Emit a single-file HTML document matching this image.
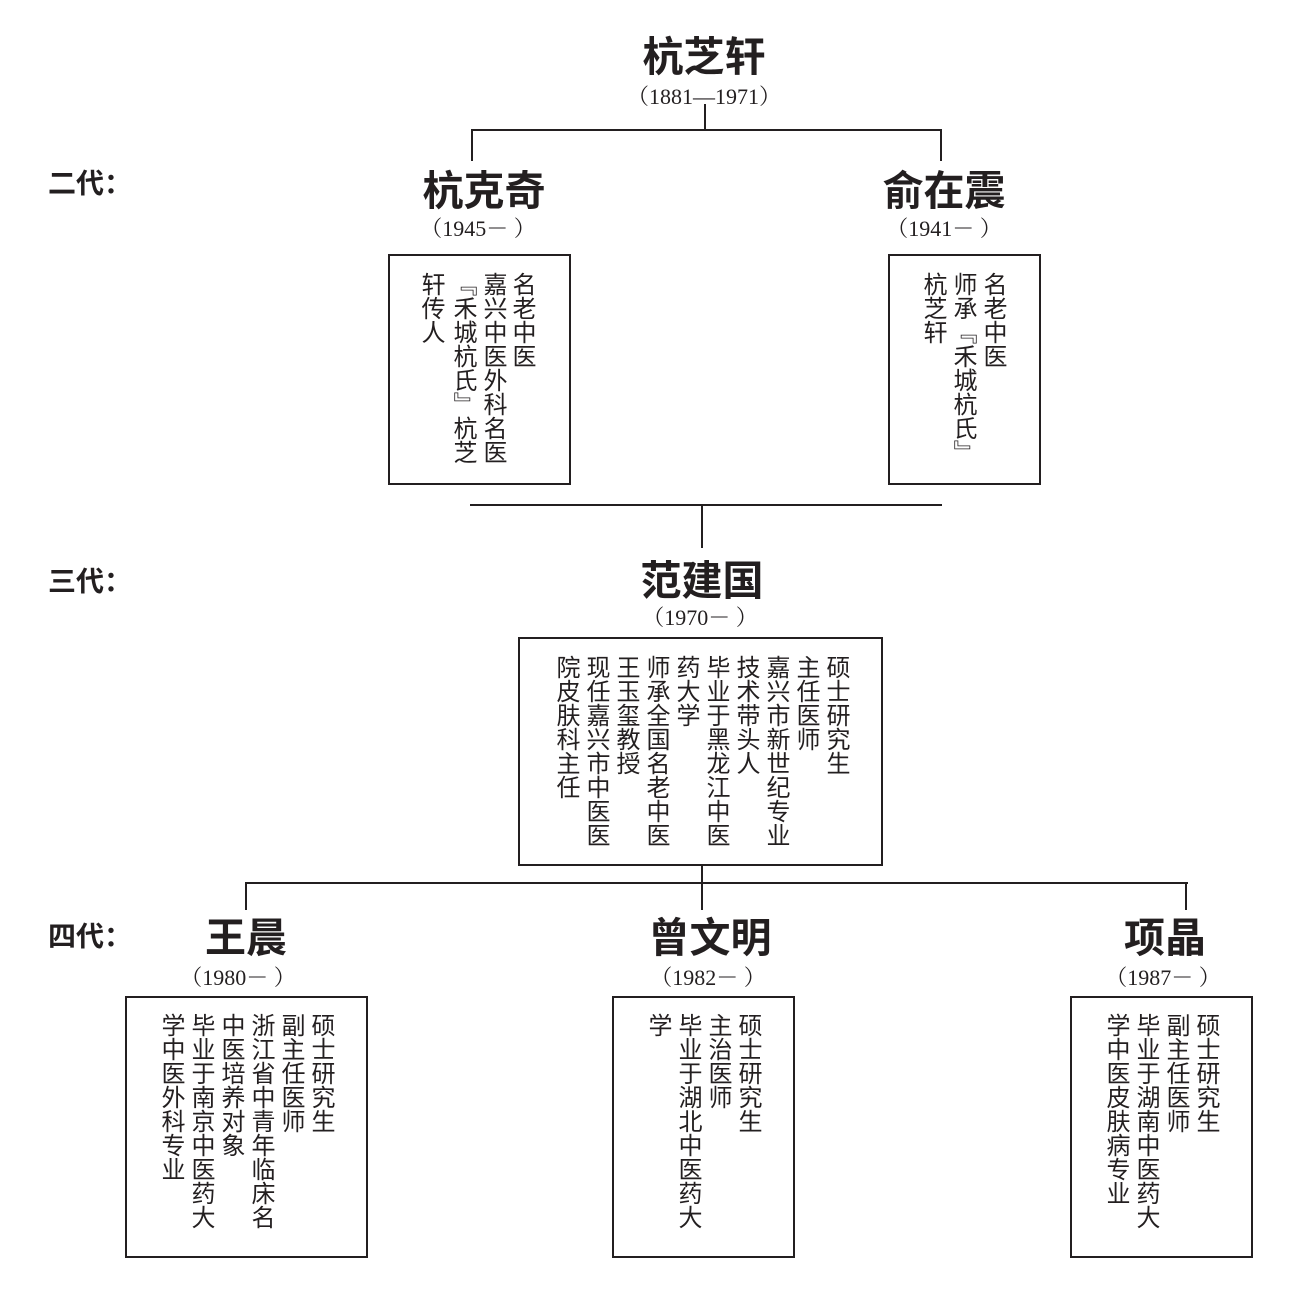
<!DOCTYPE html>
<html><head><meta charset="utf-8"><style>
body{margin:0;width:1299px;height:1299px;background:#fff;position:relative;overflow:hidden;font-family:"Liberation Sans","Noto Sans CJK SC",sans-serif;color:#231f20}
.t{position:absolute;font-weight:bold;font-size:41px;transform:translateX(-50%);white-space:nowrap;line-height:1}
.d{position:absolute;font-family:"Liberation Serif","Noto Serif CJK SC",serif;font-size:22px;transform:translateX(-50%);white-space:nowrap;line-height:1}
.g{position:absolute;font-weight:bold;font-size:28px;line-height:1;left:48px}
.box{position:absolute;border:2px solid #231f20;box-sizing:border-box}
.c{position:absolute;writing-mode:vertical-rl;font-size:24px;line-height:24px;width:24px;font-family:"Noto Sans CJK SC",sans-serif}
.h{position:absolute;height:2px;background:#231f20}
.v{position:absolute;width:2px;background:#231f20}
</style></head><body>
<div class="t" style="left:704px;top:37px">杭芝轩</div>
<div class="d" style="left:704px;top:86px">（1881—1971）</div>
<div class="v" style="left:704px;top:104px;height:27px"></div>
<div class="h" style="left:471px;top:129px;width:471px"></div>
<div class="v" style="left:471px;top:129px;height:32px"></div>
<div class="v" style="left:940px;top:129px;height:32px"></div>

<div class="g" style="top:170px">二代：</div>
<div class="t" style="left:484px;top:171px">杭克奇</div>
<div class="d" style="left:478px;top:218px">（1945－ ）</div>
<div class="t" style="left:944px;top:171px">俞在震</div>
<div class="d" style="left:944px;top:218px">（1941－ ）</div>

<div class="box" style="left:388px;top:254px;width:183px;height:231px"></div>
<div class="c" style="left:512px;top:272px">名老中医</div>
<div class="c" style="left:483px;top:272px">嘉兴中医外科名医</div>
<div class="c" style="left:453px;top:272px">『禾城杭氏』杭芝</div>
<div class="c" style="left:421px;top:272px">轩传人</div>

<div class="box" style="left:888px;top:254px;width:153px;height:231px"></div>
<div class="c" style="left:983px;top:272px">名老中医</div>
<div class="c" style="left:953px;top:272px">师承『禾城杭氏』</div>
<div class="c" style="left:923px;top:272px">杭芝轩</div>

<div class="h" style="left:470px;top:504px;width:472px"></div>
<div class="v" style="left:701px;top:504px;height:44px"></div>

<div class="g" style="top:568px">三代：</div>
<div class="t" style="left:702px;top:561px">范建国</div>
<div class="d" style="left:700px;top:607px">（1970－ ）</div>

<div class="box" style="left:518px;top:637px;width:365px;height:229px"></div>
<div class="c" style="left:826px;top:655px">硕士研究生</div>
<div class="c" style="left:796px;top:655px">主任医师</div>
<div class="c" style="left:766px;top:655px">嘉兴市新世纪专业</div>
<div class="c" style="left:736px;top:655px">技术带头人</div>
<div class="c" style="left:706px;top:655px">毕业于黑龙江中医</div>
<div class="c" style="left:676px;top:655px">药大学</div>
<div class="c" style="left:646px;top:655px">师承全国名老中医</div>
<div class="c" style="left:616px;top:655px">王玉玺教授</div>
<div class="c" style="left:586px;top:655px">现任嘉兴市中医医</div>
<div class="c" style="left:556px;top:655px">院皮肤科主任</div>

<div class="h" style="left:245px;top:882px;width:943px"></div>
<div class="v" style="left:701px;top:865px;height:45px"></div>
<div class="v" style="left:245px;top:882px;height:28px"></div>
<div class="v" style="left:1185px;top:882px;height:28px"></div>

<div class="g" style="top:923px">四代：</div>
<div class="t" style="left:246px;top:918px">王晨</div>
<div class="d" style="left:238px;top:967px">（1980－ ）</div>
<div class="t" style="left:710px;top:918px">曾文明</div>
<div class="d" style="left:708px;top:967px">（1982－ ）</div>
<div class="t" style="left:1165px;top:918px">项晶</div>
<div class="d" style="left:1163px;top:967px">（1987－ ）</div>

<div class="box" style="left:125px;top:996px;width:243px;height:262px"></div>
<div class="c" style="left:311px;top:1013px">硕士研究生</div>
<div class="c" style="left:281px;top:1013px">副主任医师</div>
<div class="c" style="left:251px;top:1013px">浙江省中青年临床名</div>
<div class="c" style="left:221px;top:1013px">中医培养对象</div>
<div class="c" style="left:191px;top:1013px">毕业于南京中医药大</div>
<div class="c" style="left:161px;top:1013px">学中医外科专业</div>

<div class="box" style="left:612px;top:996px;width:183px;height:262px"></div>
<div class="c" style="left:738px;top:1013px">硕士研究生</div>
<div class="c" style="left:708px;top:1013px">主治医师</div>
<div class="c" style="left:678px;top:1013px">毕业于湖北中医药大</div>
<div class="c" style="left:648px;top:1013px">学</div>

<div class="box" style="left:1070px;top:996px;width:183px;height:262px"></div>
<div class="c" style="left:1196px;top:1013px">硕士研究生</div>
<div class="c" style="left:1166px;top:1013px">副主任医师</div>
<div class="c" style="left:1136px;top:1013px">毕业于湖南中医药大</div>
<div class="c" style="left:1106px;top:1013px">学中医皮肤病专业</div>
</body></html>
